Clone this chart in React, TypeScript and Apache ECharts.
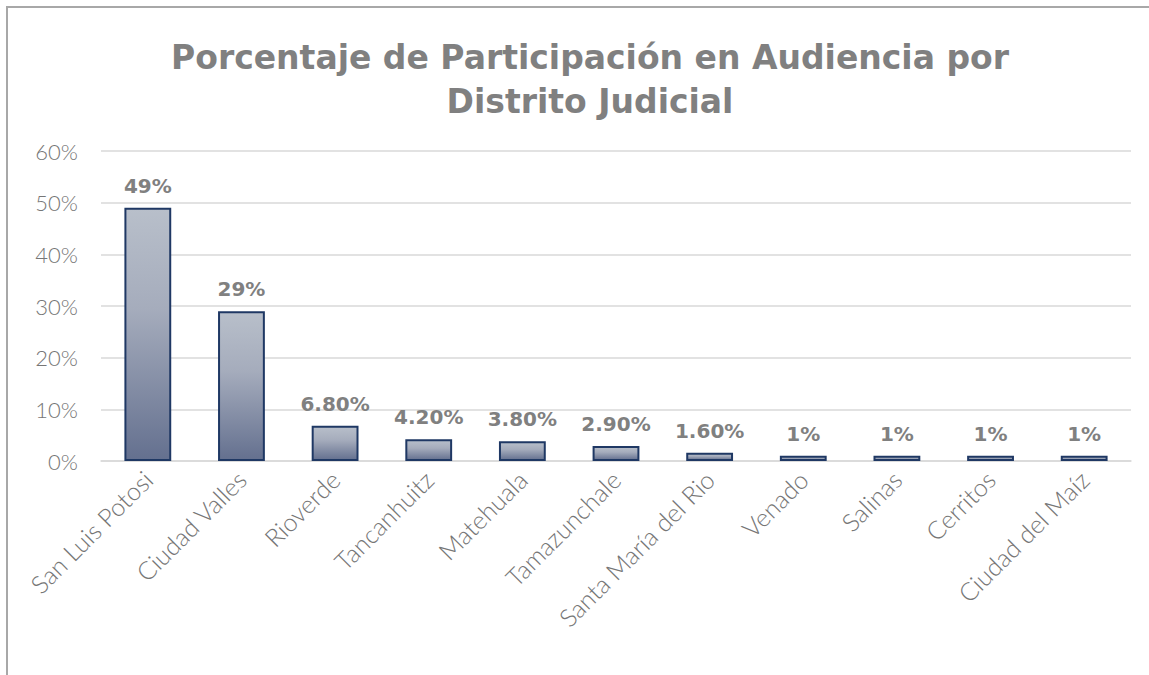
import React, { useEffect, useRef } from "react";
import * as echarts from "echarts";

const categories = [
  "San Luis Potosi",
  "Ciudad Valles",
  "Rioverde",
  "Tancanhuitz",
  "Matehuala",
  "Tamazunchale",
  "Santa María del Rio",
  "Venado",
  "Salinas",
  "Cerritos",
  "Ciudad del Maíz",
];
const values = [49, 29, 6.8, 4.2, 3.8, 2.9, 1.6, 1, 1, 1, 1];
const yTicks = { min: 0, max: 60, interval: 10 };
const titleText = "Porcentaje de Participación en Audiencia por\nDistrito Judicial";

const fmt = (v: number) => (Number.isInteger(v) ? `${v}%` : `${v.toFixed(2)}%`);

export default function App() {
  const ref = useRef<HTMLDivElement>(null);
  useEffect(() => {
    if (!ref.current) return;
    const chart = echarts.init(ref.current, null, { renderer: "svg" });
    const lightFont = "Lato, 'DejaVu Sans', sans-serif";
    chart.setOption({
      animation: false,
      backgroundColor: "#ffffff",
      title: {
        text: titleText,
        left: 585,
        top: 30,
        textAlign: "center",
        textStyle: {
          fontFamily: "'DejaVu Sans', sans-serif",
          fontWeight: "bold",
          fontSize: 33,
          lineHeight: 44,
          color: "#808080",
        },
      },
      grid: { left: 101, right: 18, top: 151, bottom: 214 },
      xAxis: {
        type: "category",
        data: categories,
        axisLine: { show: true, lineStyle: { color: "#d9d9d9", width: 1.5 } },
        axisTick: { show: false },
        axisLabel: {
          rotate: 45,
          interval: 0,
          margin: 14,
          fontSize: 25,
          fontWeight: 300,
          fontFamily: lightFont,
          color: "#767676",
        },
      },
      yAxis: {
        type: "value",
        min: yTicks.min,
        max: yTicks.max,
        interval: yTicks.interval,
        axisLine: { show: false },
        axisTick: { show: false },
        splitLine: { lineStyle: { color: "#d9d9d9", width: 1.5 } },
        axisLabel: {
          formatter: "{value}%",
          margin: 23,
          fontSize: 22,
          fontWeight: 300,
          fontFamily: lightFont,
          color: "#767676",
        },
      },
      series: [
        {
          type: "bar",
          data: values,
          barWidth: "50%",
          itemStyle: {
            color: new echarts.graphic.LinearGradient(0, 0, 0, 1, [
              { offset: 0, color: "#b8bfca" },
              { offset: 0.4, color: "#a5acbc" },
              { offset: 1, color: "#64708f" },
            ]),
            borderColor: "#1f3864",
            borderWidth: 2,
          },
          label: {
            show: true,
            position: "top",
            distance: 12,
            formatter: (p: any) => fmt(p.value),
            fontFamily: "'DejaVu Sans', sans-serif",
            fontWeight: "bold",
            fontSize: 20,
            color: "#808080",
          },
        },
      ],
    });
    return () => chart.dispose();
  }, []);
  return (
    <>
      <div
        style={{
          position: "fixed",
          left: 6,
          top: 6,
          width: 1200,
          height: 720,
          borderTop: "2px solid #a8a8a8",
          borderLeft: "2px solid #a8a8a8",
          zIndex: 2,
          pointerEvents: "none",
        }}
      />
      <div
        ref={ref}
        style={{ position: "fixed", left: 0, top: 0, width: 1149, height: 675 }}
      />
    </>
  );
}
